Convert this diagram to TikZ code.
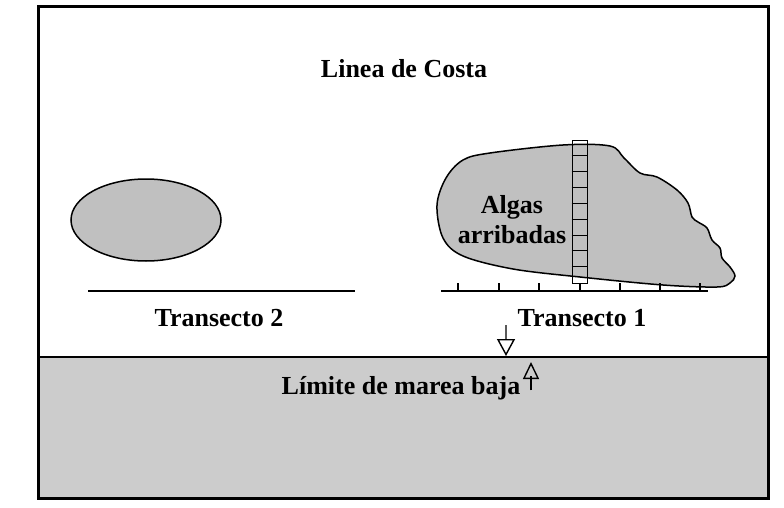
\documentclass[tikz,border=0pt]{standalone}
\usepackage{fontspec}
\setmainfont{Liberation Serif}
\usetikzlibrary{arrows.meta,shapes.geometric}
\definecolor{blobgray}{RGB}{192,192,192}
\definecolor{seagray}{RGB}{204,204,204}
\tikzset{
  lbl/.style={font=\bfseries\fontsize{26}{29}\selectfont, inner sep=0pt},
  transect/.style={line width=2.5pt},
  tick/.style={line width=1.5pt},
  shape outline/.style={draw=black, line width=1.5pt, fill=blobgray},
}
\begin{document}
\begin{tikzpicture}[x=1pt,y=-1pt]
\useasboundingbox (0,0) rectangle (784,508);
% sea area
\fill[seagray] (38,357) rectangle (768,498);
\draw[line width=2pt] (38,357) -- (768,357);
\draw[line width=3pt] (38,7) rectangle (768,498);

\node[lbl] (costa) at (404,69) {Linea de Costa};

% ellipse
\node[shape outline, ellipse, minimum width=150pt, minimum height=82pt, inner sep=0pt] (ell) at (146,220) {};

% transect 2
\coordinate (t2a) at (88,291);
\coordinate (t2b) at (355,291);
\draw[transect] (t2a) -- (t2b);
\node[lbl] (tr2) at (219,318) {Transecto 2};

% algae blob
\draw[shape outline] plot[smooth cycle, tension=0.55] coordinates {
 (437,205) (446,178) (463,160) (490,153) (563,145) (610,146) (624,158)
 (640,173) (657,177) (677,190) (688,203) (692,217) (698,222) (707,228)
 (712,240) (720,248) (722,258) (730,267) (735,276) (730,283) (717,287)
 (663,285) (580,277) (513,269) (463,256) (443,238)};
\node[lbl, align=center, font=\bfseries\fontsize{26}{30}\selectfont] (algas) at (512,220) {Algas\\arribadas};

% transect 1
\coordinate (t1a) at (441,291);
\coordinate (t1b) at (708,291);
\draw[transect] (t1a) -- (t1b);
\foreach \x in {458,499,539,580,620,660,700} {
  \draw[tick] (\x,283) -- (\x,291);
}
% quadrat
\node[draw=black, line width=0.8pt, minimum width=15pt, minimum height=143pt, inner sep=0pt] (quad) at (579.5,211.5) {};
\foreach \i in {1,...,8} {
  \draw[line width=0.8pt] ([yshift=-\i*15.89pt]quad.north west) -- ([yshift=-\i*15.89pt]quad.north east);
}
\node[lbl] (tr1) at (582,318) {Transecto 1};

% arrows
\coordinate (da) at (506,325);
\coordinate (db) at (506,356);
\draw[line width=1.6pt, draw=black!65, -{Triangle[open, length=17pt, width=18pt, line width=1.4pt, color=black]}] (da) -- (db);
\coordinate (ua) at (531,390);
\coordinate (ub) at (531,362);
\coordinate (uc) at (531,376);
\draw[line width=1.4pt, -{Triangle[open, length=17pt, width=16pt, line width=1.4pt]}] (ua) -- (ub);
\draw[line width=2pt] (ua) -- (uc);

\node[lbl] (limite) at (401,388) {Límite de marea baja};
\end{tikzpicture}
\end{document}
